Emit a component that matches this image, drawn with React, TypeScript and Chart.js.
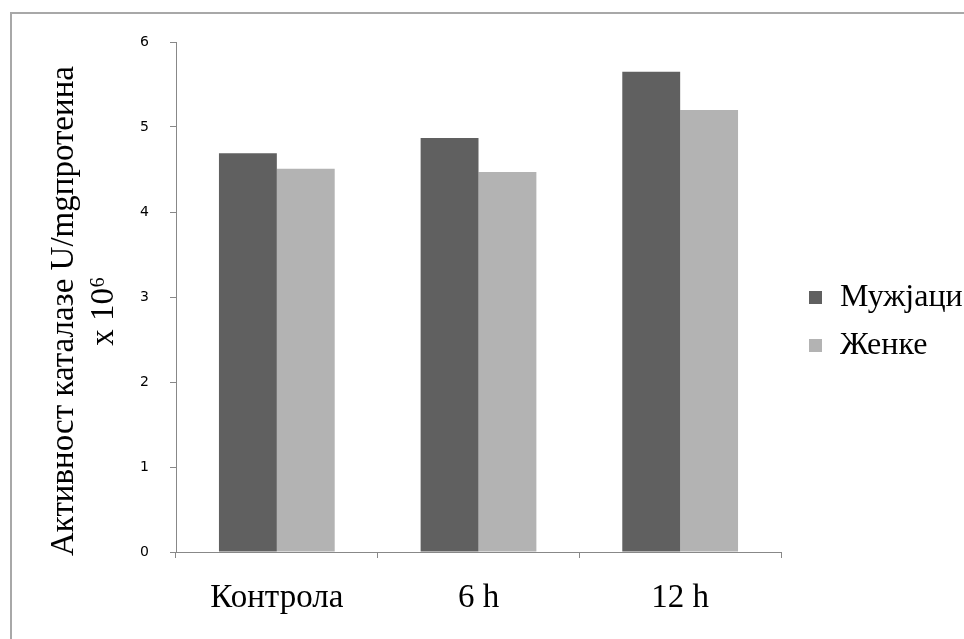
import React, { useEffect, useRef } from "react";
import { Chart, registerables } from "chart.js";

Chart.register(...registerables);

const categories = ["Контрола", "6 h", "12 h"];
const seriesLabels = ["Мужјаци", "Женке"];
const maleValues = [4.69, 4.87, 5.65];
const femaleValues = [4.51, 4.47, 5.2];
const seriesColors = ["#606060", "#b3b3b3"];
const yTitleLines = ["Активност каталазе U/mgпротеина", "x 10⁶"];
const yMin = 0;
const yMax = 6;
const yStep = 1;

const SERIF = "'Liberation Serif', 'Times New Roman', serif";
const AXIS_COLOR = "#888888";
const TEXT_SIZE = 33;

const legendPlugin = {
  id: "customLegend",
  afterDraw(chart: any) {
    const ctx = chart.ctx;
    const area = chart.chartArea;
    const x0 = area.right + 28;
    const startY = 298;
    const gap = 48;
    ctx.save();
    chart.data.datasets.forEach((ds: any, i: number) => {
      const cy = startY + i * gap;
      ctx.fillStyle = ds.backgroundColor;
      ctx.fillRect(x0, cy - 7, 13, 13);
      ctx.fillStyle = "#000";
      ctx.font = `${TEXT_SIZE - 1}px ${SERIF}`;
      ctx.textBaseline = "middle";
      ctx.textAlign = "left";
      ctx.fillText(ds.label, x0 + 31, cy);
    });
    ctx.restore();
  },
};

const yTitlePlugin = {
  id: "yTitle",
  afterDraw(chart: any) {
    const ctx = chart.ctx;
    const centerY = 311;
    const xs = [64, 104];
    ctx.save();
    ctx.fillStyle = "#000";
    ctx.font = `${TEXT_SIZE}px ${SERIF}`;
    ctx.textAlign = "center";
    ctx.textBaseline = "middle";
    yTitleLines.forEach((line, i) => {
      ctx.save();
      ctx.translate(xs[i], centerY);
      ctx.rotate(-Math.PI / 2);
      ctx.fillText(line, 0, 0);
      ctx.restore();
    });
    ctx.restore();
  },
};

export default function App() {
  const ref = useRef<HTMLCanvasElement | null>(null);

  useEffect(() => {
    if (!ref.current) return;
    const chart = new Chart(ref.current, {
      type: "bar",
      data: {
        labels: categories,
        datasets: [
          {
            label: seriesLabels[0],
            data: maleValues,
            backgroundColor: seriesColors[0],
            borderWidth: 0,
          },
          {
            label: seriesLabels[1],
            data: femaleValues,
            backgroundColor: seriesColors[1],
            borderWidth: 0,
          },
        ],
      },
      options: {
        responsive: false,
        animation: false,
        layout: { padding: { top: 42, right: 183, bottom: 0, left: 0 } },
        plugins: {
          legend: { display: false },
          tooltip: { enabled: false },
          title: { display: false },
        },
        datasets: {
          bar: { categoryPercentage: 0.574, barPercentage: 1 },
        },
        scales: {
          x: {
            grid: {
              drawOnChartArea: false,
              drawTicks: true,
              tickLength: 6,
              color: AXIS_COLOR,
              offset: true,
            },
            border: { color: AXIS_COLOR, width: 1 },
            ticks: {
              color: "#000",
              font: { family: SERIF, size: TEXT_SIZE },
              padding: 21,
              maxRotation: 0,
            },
            afterFit(scale: any) {
              scale.height = 639 - 552;
            },
          },
          y: {
            min: yMin,
            max: yMax,
            grid: {
              drawOnChartArea: false,
              drawTicks: true,
              tickLength: 6,
              color: AXIS_COLOR,
            },
            border: { color: AXIS_COLOR, width: 1 },
            ticks: {
              stepSize: yStep,
              color: "#000",
              font: { family: "'DejaVu Sans', Verdana, sans-serif", size: 14 },
              padding: 21,
            },
            afterFit(scale: any) {
              scale.width = 176;
            },
          },
        },
      },
      plugins: [legendPlugin, yTitlePlugin],
    });
    return () => chart.destroy();
  }, []);

  return (
    <div
      style={{
        position: "fixed",
        left: 0,
        top: 0,
        width: 964,
        height: 639,
        overflow: "hidden",
        background: "#fff",
      }}
    >
      <div
        style={{
          position: "absolute",
          left: 10,
          top: 12,
          width: 1000,
          height: 700,
          border: "2px solid #a8a8a8",
          boxSizing: "border-box",
        }}
      />
      <canvas
        ref={ref}
        width={964}
        height={639}
        style={{ position: "absolute", left: 0, top: 0, display: "block" }}
      />
    </div>
  );
}
